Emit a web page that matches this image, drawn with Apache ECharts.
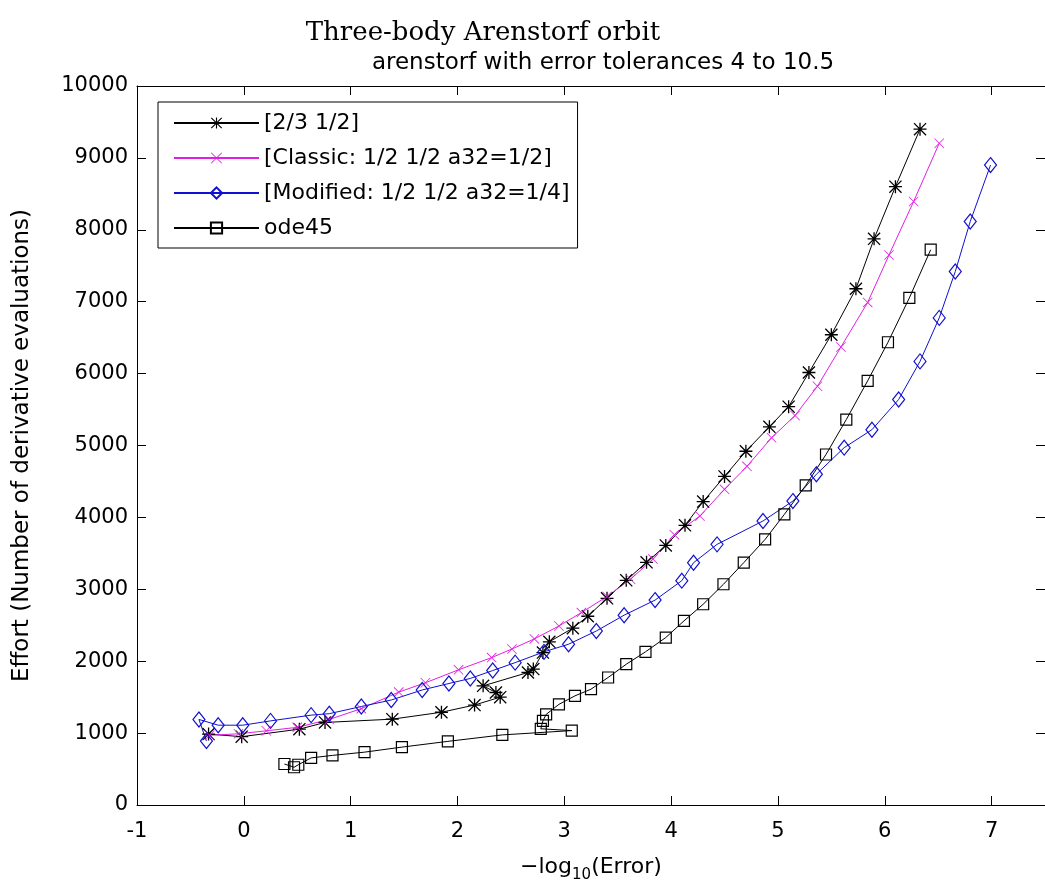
<!DOCTYPE html>
<html>
<head>
<meta charset="utf-8">
<script src="https://cdn.jsdelivr.net/npm/echarts@6/dist/echarts.min.js"></script>
<style>
  html, body { margin: 0; padding: 0; background: #fff; }
  #chart { width: 1045px; height: 888px; }
</style>
</head>
<body>
<div id="chart"></div>
<script>
// ---- data ----
const seriesNames = ['[2/3 1/2]', '[Classic: 1/2 1/2 a32=1/2]', '[Modified: 1/2 1/2 a32=1/4]', 'ode45'];

const starX = [-0.33, -0.02, 0.52, 0.76, 1.39, 1.85, 2.16, 2.40, 2.36, 2.24, 2.66, 2.71, 2.80, 2.86, 3.08, 3.22, 3.40, 3.58, 3.77, 3.95, 4.13, 4.30, 4.50, 4.70, 4.92, 5.10, 5.29, 5.50, 5.73, 5.90, 6.10, 6.33];
const starY = [986, 950, 1055, 1148, 1194, 1290, 1390, 1500, 1565, 1657, 1843, 1890, 2120, 2270, 2460, 2625, 2875, 3125, 3375, 3610, 3890, 4220, 4570, 4920, 5260, 5540, 6015, 6540, 7180, 7875, 8600, 9400];

const classicX = [-0.32, -0.05, 0.21, 0.50, 0.80, 1.10, 1.45, 1.70, 2.01, 2.32, 2.51, 2.72, 2.95, 3.16, 3.40, 3.62, 3.83, 4.03, 4.27, 4.50, 4.71, 4.94, 5.16, 5.37, 5.59, 5.84, 6.04, 6.27, 6.51];
const classicY = [970, 990, 1032, 1080, 1190, 1340, 1570, 1700, 1880, 2050, 2170, 2310, 2490, 2676, 2900, 3140, 3420, 3760, 4020, 4390, 4710, 5107, 5417, 5824, 6370, 6990, 7650, 8393, 9204];

const modX = [-0.35, -0.42, -0.24, -0.01, 0.25, 0.63, 0.80, 1.10, 1.38, 1.67, 1.92, 2.12, 2.33, 2.54, 2.81, 3.04, 3.30, 3.56, 3.85, 4.10, 4.21, 4.43, 4.86, 5.14, 5.36, 5.62, 5.88, 6.13, 6.33, 6.51, 6.66, 6.80, 6.99];
const modY = [890, 1190, 1110, 1110, 1170, 1250, 1270, 1370, 1460, 1600, 1690, 1760, 1870, 1980, 2130, 2236, 2420, 2640, 2850, 3120, 3370, 3625, 3950, 4227, 4600, 4970, 5220, 5640, 6170, 6775, 7420, 8115, 8900];

const odeX = [0.38, 0.47, 0.51, 0.63, 0.83, 1.13, 1.48, 1.91, 2.42, 3.07, 2.78, 2.80, 2.83, 2.95, 3.10, 3.25, 3.41, 3.58, 3.76, 3.95, 4.12, 4.30, 4.49, 4.68, 4.88, 5.06, 5.26, 5.45, 5.64, 5.84, 6.03, 6.23, 6.43];
const odeY = [570, 525, 560, 655, 690, 735, 805, 885, 975, 1035, 1060, 1170, 1260, 1400, 1518, 1611, 1773, 1958, 2130, 2329, 2560, 2792, 3070, 3371, 3694, 4042, 4445, 4875, 5361, 5900, 6436, 7052, 7723];

const xTickMin = -1, xTickMax = 7.5, xTickStep = 1;
const yTickMin = 0, yTickMax = 10000, yTickStep = 1000;

const titleText = 'Three-body Arenstorf orbit';
const subtitleText = 'arenstorf with error tolerances 4 to 10.5';
const yName = 'Effort (Number of derivative evaluations)';

// ---- build ----
const zip = (xs, ys) => xs.map((x, i) => [x, ys[i]]);
const STAR = 'path://M9 0 h2 v20 h-2 z M0 9 h20 v2 h-20 z M1.4 0 L20 18.6 L18.6 20 L0 1.4 z M18.6 0 L20 1.4 L1.4 20 L0 18.6 z';
const CROSS = 'path://M1.1 0 L20 18.9 L18.9 20 L0 1.1 z M18.9 0 L20 1.1 L1.1 20 L0 18.9 z';

const tickFont = { fontFamily: 'DejaVu Sans', fontSize: 21, color: '#000' };
const MAGENTA = '#e020e0';
const BLUE = '#1010d0';

const chart = echarts.init(document.getElementById('chart'));
const axisCommon = {
  type: 'value',
  axisLine: { show: true, onZero: false, lineStyle: { color: '#000', width: 1 } },
  axisTick: { show: true, inside: true, length: 9, lineStyle: { color: '#000', width: 1 } },
  splitLine: { show: false }
};

chart.setOption({
  backgroundColor: '#fff',
  animation: false,
  title: [
    { text: titleText, left: 478, top: 15, textAlign: 'center',
      textStyle: { fontFamily: 'DejaVu Serif', fontWeight: 'normal', fontSize: 26, color: '#000' } },
    { text: subtitleText, left: 598, top: 47, textAlign: 'center',
      textStyle: { fontFamily: 'DejaVu Sans', fontWeight: 'normal', fontSize: 23, color: '#000' } }
  ],
  grid: { left: 137, right: -5, top: 86, bottom: 82, containLabel: false },
  legend: {
    orient: 'vertical', left: 158, top: 102,
    data: seriesNames,
    itemWidth: 85, itemHeight: 14, itemGap: 13,
    padding: [10, 8, 9, 15],
    borderColor: '#000', borderWidth: 1, backgroundColor: '#fff',
    textStyle: { fontFamily: 'DejaVu Sans', fontSize: 22, color: '#000', lineHeight: 22 }
  },
  xAxis: [
    Object.assign({}, axisCommon, {
      min: xTickMin, max: xTickMax, interval: xTickStep, position: 'bottom',
      axisLabel: Object.assign({ margin: 16, showMaxLabel: false,
        formatter: v => (Number.isInteger(v) ? String(v) : '') }, tickFont),
      name: '\u2212log{s|10}(Error)', nameLocation: 'middle', nameGap: 47,
      nameTextStyle: { fontFamily: 'DejaVu Sans', fontSize: 22, color: '#000',
        rich: { s: { fontFamily: 'DejaVu Sans', fontSize: 15, padding: [16, 0, 0, 0], color: '#000' } } }
    }),
    Object.assign({}, axisCommon, {
      min: xTickMin, max: xTickMax, interval: xTickStep, position: 'top',
      axisLabel: { show: false }
    })
  ],
  yAxis: [
    Object.assign({}, axisCommon, {
      min: yTickMin, max: yTickMax, interval: yTickStep, position: 'left',
      axisLabel: Object.assign({ margin: 9, formatter: v => String(v) }, tickFont),
      name: yName, nameLocation: 'middle', nameGap: 103,
      nameTextStyle: { fontFamily: 'DejaVu Sans', fontSize: 23, color: '#000' }
    }),
    Object.assign({}, axisCommon, {
      min: yTickMin, max: yTickMax, interval: yTickStep, position: 'right',
      axisLabel: { show: false }
    })
  ],
  series: [
    { name: seriesNames[0], type: 'line', data: zip(starX, starY),
      symbol: STAR, symbolSize: 13, showAllSymbol: true,
      itemStyle: { color: '#000' }, lineStyle: { color: '#000', width: 1 } },
    { name: seriesNames[1], type: 'line', data: zip(classicX, classicY),
      symbol: CROSS, symbolSize: 10, showAllSymbol: true,
      itemStyle: { color: MAGENTA }, lineStyle: { color: MAGENTA, width: 1 } },
    { name: seriesNames[2], type: 'line', data: zip(modX, modY),
      symbol: 'diamond', symbolSize: [12, 15], showAllSymbol: true,
      itemStyle: { color: 'rgba(255,255,255,0)', borderColor: BLUE, borderWidth: 1.2 },
      lineStyle: { color: BLUE, width: 1 } },
    { name: seriesNames[3], type: 'line', data: zip(odeX, odeY),
      symbol: 'rect', symbolSize: 11, showAllSymbol: true,
      itemStyle: { color: 'rgba(255,255,255,0)', borderColor: '#000', borderWidth: 1.2 },
      lineStyle: { color: '#000', width: 1 } }
  ]
});
</script>
</body>
</html>
